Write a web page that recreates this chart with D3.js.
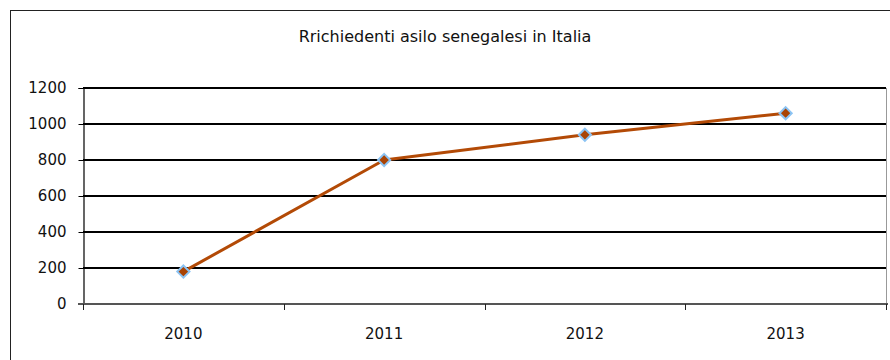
<!DOCTYPE html>
<html>
<head>
<meta charset="utf-8">
<script src="https://cdn.jsdelivr.net/npm/d3@7/dist/d3.min.js"></script>
<style>
  html, body { margin: 0; padding: 0; background: #fff; }
  svg { display: block; }
  text { font-family: "DejaVu Sans", sans-serif; fill: #111; }
</style>
</head>
<body>
<svg id="chart" width="890" height="360"></svg>
<script>
// Asylum seekers from Senegal in Italy, by year
const years = ["2010", "2011", "2012", "2013"];
const requests = [180, 800, 940, 1060];
const yTicks = [0, 200, 400, 600, 800, 1000, 1200];
const title = "Rrichiedenti asilo senegalesi in Italia";

const svg = d3.select("#chart");
const plot = { left: 83, right: 886, top: 88, bottom: 304 };

// outer chart frame (runs past the right and bottom edges)
svg.append("rect")
  .attr("x", 10.5).attr("y", 10.5)
  .attr("width", 900).attr("height", 400)
  .attr("fill", "#fff").attr("stroke", "#222").attr("stroke-width", 1);

svg.append("text")
  .attr("x", 445).attr("y", 42)
  .attr("text-anchor", "middle")
  .attr("font-size", 16)
  .text(title);

const x = d3.scaleBand().domain(years).range([plot.left, plot.right]).padding(0);
const y = d3.scaleLinear().domain([0, 1200]).range([plot.bottom, plot.top]);

// horizontal gridlines
svg.append("g")
  .selectAll("line")
  .data(yTicks.filter(d => d > 0))
  .join("line")
  .attr("x1", plot.left).attr("x2", plot.right)
  .attr("y1", d => y(d)).attr("y2", d => y(d))
  .attr("stroke", "#000").attr("stroke-width", 2);

// plot-area right border
svg.append("line")
  .attr("x1", plot.right + 0.5).attr("x2", plot.right + 0.5)
  .attr("y1", plot.top).attr("y2", plot.bottom)
  .attr("stroke", "#999").attr("stroke-width", 1);

// y axis
const yAxis = svg.append("g")
  .attr("transform", `translate(${plot.left + 0.5},0)`)
  .call(d3.axisLeft(y).tickValues(yTicks).tickSize(5).tickPadding(12).tickFormat(d3.format("d")));
yAxis.select(".domain").attr("stroke", "#000").attr("stroke-width", 1.2);
yAxis.selectAll(".tick line").attr("stroke", "#000");
yAxis.selectAll(".tick text").attr("font-size", 15).attr("font-family", null).attr("fill", "#111");

// x axis with ticks at category boundaries
const xAxisG = svg.append("g").attr("transform", `translate(0,${plot.bottom})`);
xAxisG.append("line")
  .attr("x1", plot.left - 5).attr("x2", plot.right + 2)
  .attr("y1", 0).attr("y2", 0)
  .attr("stroke", "#555").attr("stroke-width", 2);
const bounds = years.map(d => x(d)).concat([x(years[years.length - 1]) + x.bandwidth()]);
xAxisG.selectAll("line.bt")
  .data(bounds)
  .join("line")
  .attr("class", "bt")
  .attr("x1", d => Math.round(d) + 0.5).attr("x2", d => Math.round(d) + 0.5)
  .attr("y1", 0).attr("y2", 6)
  .attr("stroke", "#222").attr("stroke-width", 1);
xAxisG.selectAll("text")
  .data(years)
  .join("text")
  .attr("x", d => x(d) + x.bandwidth() / 2)
  .attr("y", 35)
  .attr("text-anchor", "middle")
  .attr("font-size", 15)
  .text(d => d);

// series line
const pts = years.map((yr, i) => [x(yr) + x.bandwidth() / 2, y(requests[i])]);
svg.append("path")
  .attr("d", d3.line()(pts))
  .attr("fill", "none")
  .attr("stroke", "#B34A06")
  .attr("stroke-width", 3)
  .attr("stroke-linejoin", "round");

// diamond markers
svg.append("g")
  .selectAll("path")
  .data(pts)
  .join("path")
  .attr("transform", d => `translate(${d[0]},${d[1]})`)
  .attr("d", d3.symbol().type(d3.symbolDiamond2).size(95))
  .attr("fill", "#A94405")
  .attr("stroke", "#8CC4F4")
  .attr("stroke-width", 2);
</script>
</body>
</html>
